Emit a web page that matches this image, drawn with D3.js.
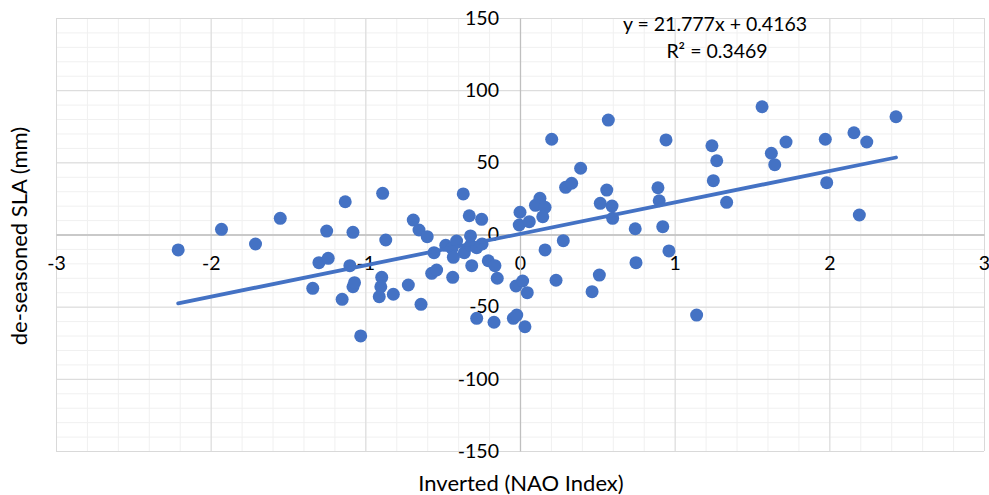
<!DOCTYPE html>
<html>
<head>
<meta charset="utf-8">
<script src="https://cdn.jsdelivr.net/npm/d3@7"></script>
<style>
  body { margin: 0; background: #fff; }
  text { font-family: Lato, "Open Sans", sans-serif; fill: #000; }
</style>
</head>
<body>
<div id="chart"></div>
<script>
// Inverted NAO index (x) and de-seasoned SLA in mm (y)
const nao = [
  -2.21, -1.93, -1.71, -1.55, -1.34, -1.30, -1.24, -1.25, -1.13, -1.15,
  -1.10, -1.08, -1.07, -1.08, -1.03, -0.894, -0.90, -0.91, -0.888, -0.868,
  -0.819, -0.722, -0.69, -0.653, -0.64, -0.60, -0.571, -0.539, -0.556, -0.48,
  -0.44, -0.431, -0.435, -0.41, -0.36, -0.367, -0.32, -0.328, -0.32, -0.312,
  -0.28, -0.28, -0.248, -0.245, -0.205, -0.162, -0.168, -0.147, -0.026, -0.043,
  -0.021, 0.0, -0.005, 0.017, 0.047, 0.032, 0.06, 0.129, 0.10, 0.162,
  0.147, 0.162, 0.205, 0.233, 0.295, 0.334, 0.28, 0.392, 0.466, 0.513,
  0.519, 0.561, 0.571, 0.595, 0.599, 0.745, 0.75, 0.892, 0.90, 0.923,
  0.944, 0.963, 1.142, 1.241, 1.25, 1.272, 1.336, 1.565, 1.625, 1.647,
  1.72, 1.974, 1.983, 2.159, 2.194, 2.242, 2.431
];
const sla = [
  -10.7, 3.6, -6.6, 11.2, -37.3, -19.5, -16.5, 2.4, 22.7, -44.9,
  -21.6, -36.2, -33.4, 1.5, -70.3, -29.7, -36.2, -43.1, 28.5, -3.8,
  -41.4, -35, 10, 3.1, -48.4, -1.5, -26.9, -24.6, -12.6, -7.5,
  -9.6, -15.8, -29.7, -4.5, -12.6, 28.1, -7.5, 13, -1.0, -21.6,
  -9.1, -58.1, 10.5, -6.5, -18.2, -21.6, -60.8, -30.3, -35.7, -58.1,
  -55.8, 15.4, 6.6, -32.2, -40.3, -63.9, 8.9, 25.1, 20.2, 18.8,
  12.3, -10.7, 66, -31.7, 32.7, 35.5, -4.3, 45.9, -39.6, -28.1,
  21.6, 30.8, 79.3, 19.7, 11.2, 4, -19.5, 32.4, 23.4, 5.4,
  65.5, -11.4, -55.8, 61.5, 37.3, 51.1, 22.3, 88.5, 56.3, 48.4,
  64.1, 66, 35.9, 70.5, 13.5, 64.1, 81.6
];

// linear trendline shown on the chart
const slope = 21.777;
const intercept = 0.4163;
const equationLabel = "y = 21.777x + 0.4163";
const r2Label = "R² = 0.3469";

const xTicks = [-3, -2, -1, 0, 1, 2, 3];
const yTicks = [-150, -100, -50, 0, 50, 100, 150];
const xMinorTicks = d3.range(-3, 3.0001, 0.2);
const yMinorTicks = d3.range(-150, 150.001, 10);

const xTitle = "Inverted (NAO Index)";
const yTitle = "de-seasoned SLA (mm)";

const W = 989, H = 495;
const margin = {top: 18, right: 5, bottom: 44, left: 56};
const width = W - margin.left - margin.right;
const height = H - margin.top - margin.bottom;

// plain hyphen minus like the original
const fmt = d => String(d);

const svg = d3.select("#chart").append("svg")
  .attr("width", W)
  .attr("height", H);

const g = svg.append("g")
  .attr("transform", `translate(${margin.left},${margin.top})`);

const x = d3.scaleLinear().domain([-3, 3]).range([0, width]);
const y = d3.scaleLinear().domain([-150, 150]).range([height, 0]);

// minor gridlines
g.append("g")
  .attr("transform", `translate(0,${height})`)
  .call(d3.axisBottom(x).tickValues(xMinorTicks).tickSize(-height).tickFormat(""))
  .call(a => a.select(".domain").remove())
  .call(a => a.selectAll("line").attr("stroke", "#f0f0f0"));
g.append("g")
  .call(d3.axisLeft(y).tickValues(yMinorTicks).tickSize(-width).tickFormat(""))
  .call(a => a.select(".domain").remove())
  .call(a => a.selectAll("line").attr("stroke", "#f0f0f0"));

// major gridlines
g.append("g")
  .attr("transform", `translate(0,${height})`)
  .call(d3.axisBottom(x).tickValues(xTicks).tickSize(-height).tickFormat(""))
  .call(a => a.select(".domain").remove())
  .call(a => a.selectAll("line").attr("stroke", "#d9d9d9"));
g.append("g")
  .call(d3.axisLeft(y).tickValues(yTicks).tickSize(-width).tickFormat(""))
  .call(a => a.select(".domain").remove())
  .call(a => a.selectAll("line").attr("stroke", "#d9d9d9"));

// axes crossing at zero
g.append("g")
  .attr("transform", `translate(0,${y(0)})`)
  .call(d3.axisBottom(x).tickValues(xTicks).tickFormat(fmt).tickSize(0).tickSizeOuter(0).tickPadding(22))
  .call(a => a.select(".domain").attr("stroke", "#bfbfbf").attr("stroke-width", 1.3))
  .call(a => a.selectAll("text").style("font-size", "19.5px").attr("fill", "#000"));

g.append("g")
  .attr("transform", `translate(${x(0)},0)`)
  .call(d3.axisLeft(y).tickValues(yTicks).tickFormat(fmt).tickSize(0).tickSizeOuter(0).tickPadding(21))
  .call(a => a.select(".domain").attr("stroke", "#bfbfbf").attr("stroke-width", 1.3))
  .call(a => a.selectAll("text").style("font-size", "19.5px").attr("fill", "#000"));

// points
g.selectAll("circle.pt")
  .data(nao.map((v, i) => ({x: v, y: sla[i]})))
  .enter().append("circle")
  .attr("class", "pt")
  .attr("cx", d => x(d.x))
  .attr("cy", d => y(d.y))
  .attr("r", 6.5)
  .attr("fill", "#4472c4");

// trendline over the data range
const xMin = d3.min(nao), xMax = d3.max(nao);
g.append("line")
  .attr("x1", x(xMin)).attr("y1", y(slope * xMin + intercept))
  .attr("x2", x(xMax)).attr("y2", y(slope * xMax + intercept))
  .attr("stroke", "#4472c4")
  .attr("stroke-width", 3.8)
  .attr("stroke-linecap", "round");

// equation label
svg.append("text")
  .attr("x", 715).attr("y", 31)
  .attr("text-anchor", "middle")
  .style("font-size", "19.5px")
  .text(equationLabel);
svg.append("text")
  .attr("x", 717).attr("y", 58)
  .attr("text-anchor", "middle")
  .style("font-size", "19.5px")
  .text(r2Label);

// axis titles
svg.append("text")
  .attr("x", 521).attr("y", 491)
  .attr("text-anchor", "middle")
  .style("font-size", "22px")
  .text(xTitle);
svg.append("text")
  .attr("transform", "translate(27,236) rotate(-90)")
  .attr("text-anchor", "middle")
  .style("font-size", "22px")
  .text(yTitle);
</script>
</body>
</html>
